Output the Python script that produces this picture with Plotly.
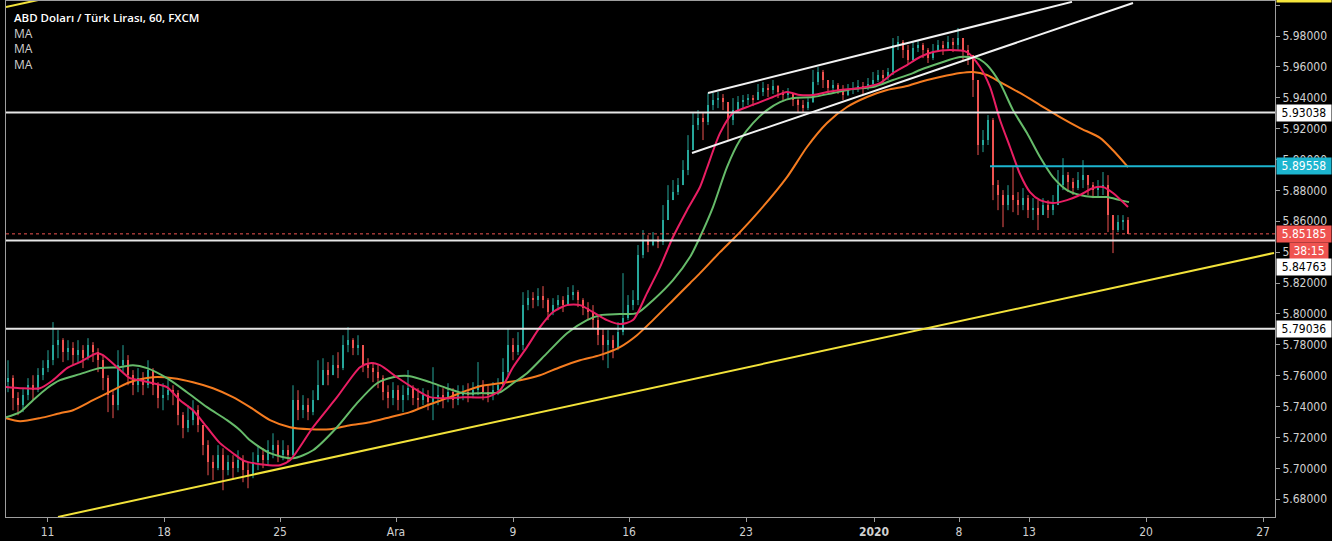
import plotly.graph_objects as go

# ---------------- data ----------------
# Candles: one candle every 5 bars starting at bar 2; open = previous close
first_open = 5.7560
first_bar = 2
bar_step = 5

closes = [
    5.7584, 5.7454, 5.7409, 5.7474, 5.7538, 5.7506, 5.7603, 5.7649, 5.7700, 5.7798,
    5.7830, 5.7752, 5.7778, 5.7733, 5.7765, 5.7713, 5.7798, 5.7752, 5.7700, 5.7584,
    5.7474, 5.7409, 5.7668, 5.7700, 5.7603, 5.7538, 5.7584, 5.7538, 5.7636, 5.7538,
    5.7454, 5.7474, 5.7506, 5.7487, 5.7344, 5.7260, 5.7312, 5.7376, 5.7279, 5.7150,
    5.7040, 5.7001, 5.7085, 5.6988, 5.7040, 5.7001, 5.7052, 5.6988, 5.6955, 5.7040,
    5.7085, 5.7052, 5.7117, 5.7150, 5.7085, 5.7117, 5.7085, 5.7441, 5.7376, 5.7409,
    5.7364, 5.7441, 5.7538, 5.7636, 5.7603, 5.7668, 5.7649, 5.7798, 5.7830, 5.7778,
    5.7798, 5.7668, 5.7649, 5.7623, 5.7584, 5.7493, 5.7454, 5.7506, 5.7441, 5.7474,
    5.7519, 5.7454, 5.7441, 5.7474, 5.7428, 5.7454, 5.7474, 5.7454, 5.7493, 5.7441,
    5.7474, 5.7493, 5.7474, 5.7506, 5.7538, 5.7493, 5.7474, 5.7506, 5.7538, 5.7623,
    5.7798, 5.7752, 5.7798, 5.8057, 5.8102, 5.8089, 5.8115, 5.8089, 5.8012, 5.8057,
    5.8089, 5.8057, 5.8122, 5.8141, 5.8089, 5.8037, 5.8012, 5.7960, 5.7862, 5.7798,
    5.7830, 5.7778, 5.7882, 5.7973, 5.8057, 5.8089, 5.8381, 5.8478, 5.8446, 5.8478,
    5.8465, 5.8608, 5.8737, 5.8789, 5.8834, 5.8932, 5.9061, 5.9223, 5.9269, 5.9243,
    5.9353, 5.9385, 5.9398, 5.9372, 5.9256, 5.9320, 5.9372, 5.9385, 5.9398, 5.9385,
    5.9437, 5.9463, 5.9450, 5.9476, 5.9437, 5.9418, 5.9431, 5.9385, 5.9353, 5.9333,
    5.9372, 5.9502, 5.9567, 5.9515, 5.9463, 5.9482, 5.9450, 5.9418, 5.9450, 5.9463,
    5.9476, 5.9463, 5.9489, 5.9515, 5.9547, 5.9528, 5.9567, 5.9742, 5.9761, 5.9709,
    5.9644, 5.9722, 5.9742, 5.9709, 5.9657, 5.9696, 5.9742, 5.9722, 5.9761, 5.9742,
    5.9787, 5.9709, 5.9677, 5.9515, 5.9094, 5.9126, 5.9256, 5.8834, 5.8770, 5.8705,
    5.8770, 5.8737, 5.8705, 5.8750, 5.8672, 5.8685, 5.8640, 5.8705, 5.8672, 5.8705,
    5.8834, 5.8899, 5.8854, 5.8815, 5.8867, 5.8899, 5.8834, 5.8802, 5.8815, 5.8834,
    5.8640, 5.8543, 5.8595, 5.8608, 5.85185,
]

highs = [
    5.7700, 5.7603, 5.7493, 5.7519, 5.7584, 5.7603, 5.7649, 5.7700, 5.7765, 5.7947,
    5.7895, 5.7843, 5.7830, 5.7817, 5.7830, 5.7798, 5.7843, 5.7817, 5.7778, 5.7733,
    5.7603, 5.7506, 5.7765, 5.7798, 5.7733, 5.7636, 5.7649, 5.7623, 5.7700, 5.7649,
    5.7558, 5.7551, 5.7571, 5.7538, 5.7506, 5.7364, 5.7409, 5.7441, 5.7409, 5.7279,
    5.7182, 5.7085, 5.7150, 5.7130, 5.7085, 5.7085, 5.7117, 5.7085, 5.7040, 5.7104,
    5.7150, 5.7130, 5.7182, 5.7227, 5.7182, 5.7182, 5.7150, 5.7538, 5.7506, 5.7474,
    5.7454, 5.7506, 5.7700, 5.7713, 5.7688, 5.7733, 5.7752, 5.7862, 5.7914, 5.7843,
    5.7862, 5.7798, 5.7713, 5.7688, 5.7668, 5.7603, 5.7538, 5.7558, 5.7538, 5.7538,
    5.7636, 5.7538, 5.7519, 5.7519, 5.7506, 5.7655, 5.7538, 5.7519, 5.7551, 5.7519,
    5.7538, 5.7538, 5.7551, 5.7558, 5.7688, 5.7571, 5.7538, 5.7558, 5.7584, 5.7713,
    5.7908, 5.7843, 5.7882, 5.8141, 5.8154, 5.8141, 5.8167, 5.8180, 5.8102, 5.8102,
    5.8122, 5.8115, 5.8174, 5.8186, 5.8154, 5.8102, 5.8076, 5.8057, 5.7992, 5.7908,
    5.7895, 5.7862, 5.7947, 5.8264, 5.8122, 5.8154, 5.8446, 5.8543, 5.8510, 5.8530,
    5.8504, 5.8705, 5.8834, 5.8867, 5.8880, 5.8996, 5.9158, 5.9308, 5.9320, 5.9308,
    5.9431, 5.9431, 5.9437, 5.9424, 5.9353, 5.9398, 5.9411, 5.9418, 5.9424, 5.9418,
    5.9489, 5.9502, 5.9489, 5.9515, 5.9482, 5.9450, 5.9463, 5.9424, 5.9398, 5.9385,
    5.9398, 5.9580, 5.9599, 5.9580, 5.9515, 5.9515, 5.9495, 5.9482, 5.9489, 5.9502,
    5.9515, 5.9502, 5.9528, 5.9567, 5.9580, 5.9580, 5.9593, 5.9787, 5.9800, 5.9774,
    5.9742, 5.9761, 5.9774, 5.9755, 5.9722, 5.9748, 5.9774, 5.9768, 5.9800, 5.9787,
    5.9852, 5.9774, 5.9742, 5.9644, 5.9418, 5.9191, 5.9288, 5.9269, 5.8867, 5.8802,
    5.8834, 5.8951, 5.8789, 5.8815, 5.8770, 5.8750, 5.8737, 5.8750, 5.8737, 5.8770,
    5.8932, 5.9009, 5.8919, 5.8880, 5.8919, 5.8996, 5.8880, 5.8854, 5.8867, 5.8919,
    5.8899, 5.8640, 5.8640, 5.8640, 5.8627,
]

lows = [
    5.7493, 5.7376, 5.7344, 5.7364, 5.7441, 5.7441, 5.7493, 5.7571, 5.7623, 5.7668,
    5.7713, 5.7688, 5.7700, 5.7668, 5.7688, 5.7649, 5.7700, 5.7688, 5.7623, 5.7506,
    5.7364, 5.7325, 5.7376, 5.7623, 5.7538, 5.7474, 5.7493, 5.7474, 5.7519, 5.7474,
    5.7389, 5.7376, 5.7441, 5.7409, 5.7279, 5.7195, 5.7234, 5.7279, 5.7234, 5.7085,
    5.6955, 5.6923, 5.6988, 5.6858, 5.6955, 5.6936, 5.6975, 5.6910, 5.6871, 5.6936,
    5.6988, 5.7001, 5.7020, 5.7065, 5.7040, 5.7052, 5.7040, 5.7065, 5.7312, 5.7325,
    5.7312, 5.7344, 5.7474, 5.7538, 5.7538, 5.7603, 5.7584, 5.7636, 5.7752, 5.7733,
    5.7733, 5.7623, 5.7584, 5.7558, 5.7519, 5.7441, 5.7389, 5.7409, 5.7376, 5.7364,
    5.7441, 5.7409, 5.7389, 5.7409, 5.7376, 5.7312, 5.7409, 5.7389, 5.7428, 5.7389,
    5.7409, 5.7441, 5.7428, 5.7454, 5.7474, 5.7441, 5.7428, 5.7441, 5.7474, 5.7538,
    5.7584, 5.7700, 5.7733, 5.7765, 5.8024, 5.8037, 5.8050, 5.8037, 5.7960, 5.7992,
    5.8024, 5.8012, 5.8057, 5.8089, 5.8044, 5.7992, 5.7960, 5.7908, 5.7798, 5.7700,
    5.7649, 5.7713, 5.7765, 5.7862, 5.7960, 5.8024, 5.8057, 5.8361, 5.8400, 5.8439,
    5.8426, 5.8446, 5.8640, 5.8737, 5.8770, 5.8834, 5.8899, 5.9061, 5.9191, 5.9126,
    5.9223, 5.9320, 5.9333, 5.9320, 5.9126, 5.9223, 5.9308, 5.9333, 5.9353, 5.9346,
    5.9385, 5.9411, 5.9405, 5.9424, 5.9398, 5.9385, 5.9392, 5.9346, 5.9308, 5.9301,
    5.9320, 5.9366, 5.9482, 5.9463, 5.9431, 5.9450, 5.9424, 5.9385, 5.9411, 5.9424,
    5.9437, 5.9424, 5.9450, 5.9463, 5.9502, 5.9489, 5.9515, 5.9547, 5.9709, 5.9657,
    5.9612, 5.9657, 5.9696, 5.9657, 5.9625, 5.9644, 5.9696, 5.9677, 5.9709, 5.9696,
    5.9709, 5.9644, 5.9612, 5.9405, 5.9029, 5.9048, 5.9094, 5.8737, 5.8672, 5.8562,
    5.8672, 5.8659, 5.8640, 5.8672, 5.8621, 5.8608, 5.8543, 5.8640, 5.8621, 5.8640,
    5.8705, 5.8802, 5.8789, 5.8770, 5.8802, 5.8815, 5.8770, 5.8750, 5.8763, 5.8770,
    5.8530, 5.8394, 5.8530, 5.8543, 5.8523,
]

# Moving averages, sampled along the bar axis
ma_fast_bars = [0, 14, 34, 47, 61, 74, 91, 97, 111, 124, 134, 147, 161, 174, 187, 201, 214, 227,
                237, 254, 274, 284, 307, 331, 354, 364, 374, 391, 411, 424, 441, 457, 481, 494,
                507, 521, 534, 547, 561, 574, 587, 601, 614, 627, 641, 654, 667, 681, 694, 701,
                714, 727, 741, 754, 767, 781, 794, 807, 821, 834, 854, 874, 887, 901, 914, 927,
                944, 961, 974, 984, 994, 1004, 1014, 1024, 1034, 1047, 1061, 1074, 1087, 1097,
                1107, 1122]
ma_fast_vals = [5.7526, 5.7519, 5.7519, 5.7571, 5.7649, 5.7688, 5.7746, 5.7733, 5.7655, 5.7584,
                5.7571, 5.7551, 5.7526, 5.7441, 5.7376, 5.7266, 5.7163, 5.7098, 5.7052, 5.7027,
                5.7020, 5.7052, 5.7266, 5.7461, 5.7655, 5.7681, 5.7668, 5.7590, 5.7506, 5.7461,
                5.7454, 5.7461, 5.7461, 5.7506, 5.7655, 5.7785, 5.7914, 5.8012, 5.8057, 5.8057,
                5.8012, 5.7960, 5.7934, 5.7960, 5.8135, 5.8303, 5.8498, 5.8672, 5.8822, 5.8945,
                5.9171, 5.9301, 5.9340, 5.9372, 5.9405, 5.9437, 5.9418, 5.9418, 5.9437, 5.9450,
                5.9463, 5.9495, 5.9560, 5.9612, 5.9664, 5.9696, 5.9709, 5.9696, 5.9599, 5.9470,
                5.9256, 5.9081, 5.8906, 5.8789, 5.8737, 5.8718, 5.8737, 5.8770, 5.8815, 5.8822,
                5.8783, 5.8692]

ma_mid_bars = [0, 14, 27, 41, 54, 74, 94, 114, 127, 141, 161, 181, 201, 221, 234, 244, 264, 287,
               307, 331, 351, 371, 387, 404, 424, 441, 457, 474, 494, 507, 521, 541, 561, 581,
               594, 614, 631, 647, 667, 684, 694, 707, 721, 734, 747, 761, 774, 787, 807, 827,
               847, 867, 887, 907, 914, 934, 954, 971, 981, 994, 1007, 1021, 1034, 1047, 1061,
               1074, 1087, 1101, 1114, 1123]
ma_mid_vals = [5.7331, 5.7364, 5.7441, 5.7519, 5.7571, 5.7610, 5.7649, 5.7655, 5.7668, 5.7649,
               5.7584, 5.7493, 5.7396, 5.7312, 5.7247, 5.7182, 5.7098, 5.7065, 5.7117, 5.7266,
               5.7422, 5.7551, 5.7590, 5.7597, 5.7558, 5.7519, 5.7487, 5.7487, 5.7493, 5.7551,
               5.7616, 5.7746, 5.7875, 5.7960, 5.7992, 5.7999, 5.8005, 5.8089, 5.8219, 5.8368,
               5.8498, 5.8692, 5.8951, 5.9126, 5.9236, 5.9320, 5.9372, 5.9398, 5.9405, 5.9431,
               5.9457, 5.9470, 5.9515, 5.9560, 5.9580, 5.9625, 5.9664, 5.9657, 5.9612, 5.9495,
               5.9320, 5.9171, 5.9016, 5.8886, 5.8802, 5.8770, 5.8757, 5.8757, 5.8737, 5.8724]

ma_slow_bars = [0, 14, 34, 54, 67, 87, 107, 121, 134, 147, 167, 187, 207, 227, 244, 264, 284, 304,
                324, 344, 364, 384, 404, 424, 444, 459, 474, 494, 514, 534, 554, 574, 594, 614,
                631, 647, 667, 684, 694, 714, 734, 754, 781, 801, 821, 841, 861, 881, 901, 914,
                934, 954, 967, 981, 994, 1014, 1034, 1054, 1074, 1094, 1107, 1122]
ma_slow_vals = [5.7325, 5.7305, 5.7325, 5.7357, 5.7376, 5.7441, 5.7506, 5.7551, 5.7577, 5.7590,
                5.7584, 5.7558, 5.7519, 5.7461, 5.7396, 5.7312, 5.7266, 5.7253, 5.7253, 5.7279,
                5.7299, 5.7331, 5.7364, 5.7415, 5.7461, 5.7500, 5.7532, 5.7551, 5.7571, 5.7603,
                5.7655, 5.7700, 5.7733, 5.7785, 5.7862, 5.7960, 5.8089, 5.8199, 5.8264, 5.8400,
                5.8530, 5.8672, 5.8886, 5.9081, 5.9236, 5.9340, 5.9405, 5.9450, 5.9476, 5.9502,
                5.9534, 5.9560, 5.9567, 5.9547, 5.9502, 5.9431, 5.9353, 5.9275, 5.9204, 5.9140,
                5.9060, 5.8951]

# Time axis labels (bar positions)
tick_bars = [41.5, 158, 274, 390, 507, 623, 740, 868, 953, 1023, 1140, 1257]
tick_labels = ["11", "18", "25", "Ara", "9", "16", "23", "<b>2020</b>", "8", "13", "20", "27"]

# Drawn levels and trend lines
white_levels = [5.93038, 5.84763, 5.79036]
cyan_level = 5.89558
cyan_start_bar = 984
last_price = 5.85185
countdown = "38:15"
yellow_trend_bars = [52, 1268]
yellow_trend_vals = [5.6685, 5.8395]
yellow_top_bars = [0, 40]
yellow_top_vals = [5.9988, 6.0044]
channel_up_bars = [702, 1066]
channel_up_vals = [5.9431, 6.0021]
channel_lo_bars = [686, 1127]
channel_lo_vals = [5.9042, 6.0014]

title_text = "ABD Doları / Türk Lirası, 60, FXCM"
ma_labels = ["MA", "MA", "MA"]

# ---------------- styling ----------------
UP = "#26a69a"
DOWN = "#ef5350"
AXFONT = "Liberation Sans Narrow, DejaVu Sans Condensed, Arial Narrow, sans-serif"
TXTFONT = "Open Sans, Noto Sans, sans-serif"
AXIS_LINE = "#9e9e9e"
X_MAX = 1269
Y_MIN, Y_MAX = 5.66847, 6.00267

# ---------------- build candles ----------------
n = min(len(closes), len(highs), len(lows))
bars = [first_bar + bar_step * i for i in range(n)]
opens = [first_open] + closes[:n - 1]

groups = {True: dict(x=[], base=[], h=[], wx=[], wy=[]),
          False: dict(x=[], base=[], h=[], wx=[], wy=[])}
for b, o, c, h, l in zip(bars, opens, closes, highs, lows):
    up = c >= o
    g = groups[up]
    top, bot = max(o, c), min(o, c)
    g["x"].append(b)
    g["base"].append(bot)
    g["h"].append(max(top - bot, 0.00022))
    g["wx"] += [b, b, None]
    g["wy"] += [max(h, top), min(l, bot), None]

fig = go.Figure()
for up, color in ((True, UP), (False, DOWN)):
    g = groups[up]
    fig.add_trace(go.Scatter(x=g["wx"], y=g["wy"], mode="lines",
                             line=dict(color=color, width=1), hoverinfo="skip"))
    fig.add_trace(go.Bar(x=g["x"], y=g["h"], base=g["base"], width=2.4,
                         marker=dict(color=color, line=dict(width=0)), hoverinfo="skip"))

for xs, ys, col in ((ma_slow_bars, ma_slow_vals, "#f57c20"),
                    (ma_mid_bars, ma_mid_vals, "#66bb6a"),
                    (ma_fast_bars, ma_fast_vals, "#e91e63")):
    fig.add_trace(go.Scatter(x=xs, y=ys, mode="lines",
                             line=dict(color=col, width=2, shape="spline", smoothing=0.7),
                             hoverinfo="skip"))

shapes = []
for lvl in white_levels:
    shapes.append(dict(type="line", xref="paper", x0=0, x1=1, yref="y", y0=lvl, y1=lvl,
                       line=dict(color="#e6e6e6", width=2)))
shapes.append(dict(type="line", xref="paper", x0=0, x1=1, yref="y", y0=last_price, y1=last_price,
                   line=dict(color=DOWN, width=1, dash="dot")))
shapes.append(dict(type="line", xref="x", x0=cyan_start_bar, x1=X_MAX, yref="y",
                   y0=cyan_level, y1=cyan_level, line=dict(color="#1cb5cf", width=2)))
for xs, ys, col in ((yellow_trend_bars, yellow_trend_vals, "#f2e23a"),
                    (yellow_top_bars, yellow_top_vals, "#f2e23a"),
                    (channel_up_bars, channel_up_vals, "#f2f2f2"),
                    (channel_lo_bars, channel_lo_vals, "#f2f2f2")):
    shapes.append(dict(type="line", xref="x", yref="y", x0=xs[0], x1=xs[1], y0=ys[0], y1=ys[1],
                       line=dict(color=col, width=2)))

annotations = [
    dict(xref="paper", x=0, xanchor="left", xshift=6, yref="paper", y=1, yanchor="middle",
         yshift=-16, text=title_text, showarrow=False,
         font=dict(family=TXTFONT, size=11.5, color="#ffffff", weight=600)),
]
for i, lab in enumerate(ma_labels):
    annotations.append(dict(xref="paper", x=0, xanchor="left", xshift=6, yref="paper", y=1,
                            yanchor="middle", yshift=-32 - 15.5 * i, text=lab, showarrow=False,
                            font=dict(family=TXTFONT, size=12, color="#d0d0d0")))


def price_box(price, text, bg, fg, yshift=0, xshift=1, width=52):
    return dict(xref="paper", x=1, xanchor="left", xshift=xshift, yref="y", y=price,
                yanchor="middle", yshift=yshift, text=text, showarrow=False, bgcolor=bg,
                font=dict(family=AXFONT, size=12, color=fg), width=width, height=14,
                borderpad=1, align="center")


annotations += [
    price_box(white_levels[0], f"{white_levels[0]:.5f}", "#ffffff", "#000000"),
    price_box(cyan_level, f"{cyan_level:.5f}", "#1cb5cf", "#ffffff"),
    price_box(last_price, f"{last_price:.5f}", DOWN, "#ffffff"),
    price_box(last_price, countdown, DOWN, "#ffffff", yshift=-17, xshift=14, width=36),
    price_box(white_levels[1], f"{white_levels[1]:.5f}", "#ffffff", "#000000", yshift=-27),
    price_box(white_levels[2], f"{white_levels[2]:.5f}", "#ffffff", "#000000"),
    dict(xref="paper", x=1, xanchor="left", xshift=1, yref="paper", y=1, yanchor="middle",
         yshift=7, text="6.00000", showarrow=False, bgcolor="#f5e63c",
         font=dict(family=AXFONT, size=12, color="#333333"), width=52, height=14, borderpad=1),
]

fig.update_layout(
    width=1332, height=541,
    margin=dict(l=6, r=57, t=1, b=24, pad=0),
    paper_bgcolor="#000000", plot_bgcolor="#000000",
    showlegend=False, barmode="overlay", bargap=0,
    shapes=shapes, annotations=annotations,
    xaxis=dict(range=[0, X_MAX], tickvals=tick_bars, ticktext=tick_labels,
               showgrid=False, zeroline=False, showline=True, mirror=True,
               linecolor=AXIS_LINE, linewidth=1, ticks="outside", ticklen=4,
               tickcolor=AXIS_LINE, tickfont=dict(family=AXFONT, size=12, color="#d0d0d0"),
               fixedrange=True),
    yaxis=dict(range=[Y_MIN, Y_MAX], side="right", dtick=0.02, tick0=5.68, tickformat=".5f",
               showgrid=False, zeroline=False, showline=True, mirror=True,
               linecolor=AXIS_LINE, linewidth=1, ticks="outside", ticklen=4,
               tickcolor=AXIS_LINE, tickfont=dict(family=AXFONT, size=12, color="#d0d0d0"),
               fixedrange=True),
)

fig.write_html("out.html", config={"displayModeBar": False})
